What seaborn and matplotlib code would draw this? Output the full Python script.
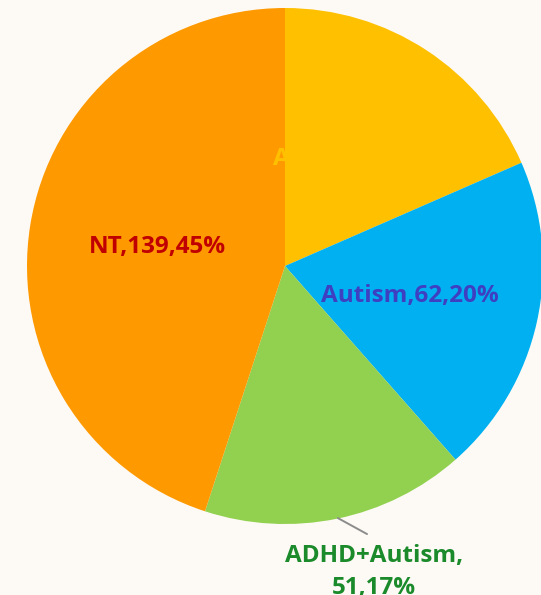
import matplotlib
matplotlib.use("Agg")
import matplotlib.pyplot as plt
import seaborn as sns

# Group sizes, clockwise from 12 o'clock
categories = ["ADHD", "Autism", "ADHD+Autism", "NT"]
counts = [57, 62, 51, 139]
percents = [18, 20, 17, 45]

slice_colors = ["#FFC000", "#00B0F0", "#92D050", "#FF9900"]
label_colors = ["#FFC000", "#3F3FC2", "#1B8A2B", "#C00000"]

sns.set_theme(style="white")
plt.rcParams["font.family"] = ["Open Sans", "DejaVu Sans"]

bg = "#FDFAF5"
fig = plt.figure(figsize=(5.41, 5.95), dpi=100, facecolor=bg)
ax = fig.add_axes([27 / 541, 71 / 595, 516 / 541, 516 / 595])
ax.set_facecolor(bg)

ax.pie(counts, colors=slice_colors, startangle=90, counterclock=False,
       radius=1.0, wedgeprops=dict(linewidth=0))
ax.set_xlim(-1, 1)
ax.set_ylim(-1, 1)
ax.axis("off")

texts = [f"{c},{n},{p}%" for c, n, p in zip(categories, counts, percents)]
fs = 17.5

# In-slice labels
ax.text(-0.047, 0.415, texts[0], color=label_colors[0], fontsize=fs,
        fontweight="bold", ha="left", va="center")
ax.text(0.484, -0.115, texts[1], color=label_colors[1], fontsize=fs,
        fontweight="bold", ha="center", va="center")
ax.text(-0.493, 0.074, texts[3], color=label_colors[3], fontsize=fs,
        fontweight="bold", ha="center", va="center")

# Outside label with leader line
ax.plot([0.205, 0.318], [-0.977, -1.039], color="#8C8C8C", lw=1.4,
        clip_on=False)
ax.text(0.345, -1.186, f"{categories[2]},\n{counts[2]},{percents[2]}%",
        color=label_colors[2], fontsize=fs, fontweight="bold",
        ha="center", va="center", linespacing=1.4, clip_on=False)

fig.savefig("out.png", dpi=100, facecolor=bg)
